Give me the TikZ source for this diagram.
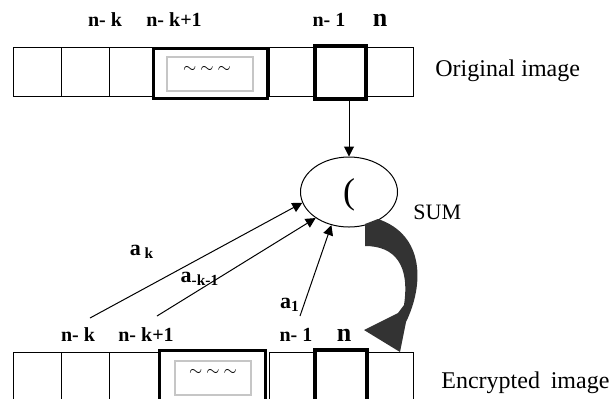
\documentclass[tikz,border=0pt]{standalone}
\usepackage{fontspec}
\setmainfont{Liberation Serif}
\usetikzlibrary{arrows.meta,shapes.geometric}

\tikzset{
  cell/.style={draw,line width=0.5pt,minimum height=24.5pt,inner sep=0pt},
  groupbox/.style={draw,line width=1.5pt,minimum height=25pt,inner sep=0pt},
  greybox/.style={draw=gray!45,line width=0.6pt,minimum height=17pt,inner sep=0pt,font=\footnotesize},
  thickcell/.style={draw,line width=2pt,minimum height=26.5pt,inner sep=0pt},
  idx/.style={font=\bfseries\fontsize{10}{12}\selectfont,inner sep=0pt},
  bign/.style={font=\bfseries\fontsize{13}{15}\selectfont,inner sep=0pt},
  coef/.style={font=\bfseries\fontsize{11}{13}\selectfont,inner sep=0pt},
  caption/.style={font=\fontsize{12}{14}\selectfont,anchor=west,inner sep=0pt},
  feed/.style={-{Triangle[length=5pt,width=5pt]},line width=0.5pt},
}

\begin{document}
\begin{tikzpicture}[x=0.5pt,y=-0.5pt]
  \useasboundingbox (0,0) rectangle (615,398);
  \clip (0,0) rectangle (615,398);

  % original image row
  \node[cell,minimum width=24pt] (o1) at (37,71.5) {};
  \node[cell,minimum width=24pt] (o2) at (85,71.5) {};
  \node[cell,minimum width=22pt] (o3) at (131,71.5) {};
  \node[groupbox,minimum width=57pt] (ogrp) at (210,73) {};
  \node[greybox,minimum width=43pt] (otil) at (210,74) {};
  \node (otxt) at (207,69) {\footnotesize$\sim\ \sim\ \sim$};
  \node[cell,minimum width=23pt] (o5) at (292,71.5) {};
  \node[cell,minimum width=23.5pt] (o7) at (389.5,71.5) {};
  \node[thickcell,minimum width=25.5pt] (on) at (340.5,72.5) {};

  \node[idx] (tk) at (105,20) {n- k};
  \node[idx] (tk1) at (174,20) {n- k+1};
  \node[idx] (t1) at (329,20) {n- 1};
  \node[bign] (tn) at (380,20) {n};
  \node[caption] (orig) at (435,71) {Original image};

  % sum
  \node[ellipse,draw,line width=0.5pt,minimum width=48.5pt,minimum height=35pt,inner sep=0pt]
    (sum) at (349,192) {};
  \node (sumsym) at (349,195) {\fontsize{18}{20}\selectfont (};
  \node[caption,font=\fontsize{11}{13}\selectfont] (sumlbl) at (413,212) {SUM};
  \draw[feed] (sum.north |- on.south) -- (sum.north);

  % encrypted image row
  \node[cell,minimum width=24pt] (e1) at (37,376.5) {};
  \node[cell,minimum width=24pt] (e2) at (85,376.5) {};
  \node[cell,minimum width=25pt] (e3) at (134,376.5) {};
  \node[groupbox,minimum width=53pt,minimum height=26pt] (egrp) at (212,376) {};
  \node[greybox,minimum width=38pt] (etil) at (213,378) {};
  \node (etxt) at (213,372) {\footnotesize$\sim\ \sim\ \sim$};
  \node[cell,minimum width=23pt] (e5) at (292,376.5) {};
  \node[cell,minimum width=23pt] (e7) at (390,376.5) {};
  \node[thickcell,minimum width=26pt] (en) at (341,376) {};

  \node[idx] (bk) at (78,335) {n- k};
  \node[idx] (bk1) at (146,335) {n- k+1};
  \node[idx] (b1) at (296,335) {n- 1};
  \node[bign] (bn) at (344,335) {n};
  \node[caption] (enc) at (441,383) {Encrypted\hspace{0.45em}image};

  % weighted feedback
  \coordinate (fk) at (90,318);
  \coordinate (fk1) at (157,316);
  \coordinate (f1) at (300,316);
  \draw[feed] (fk) -- (sum.193);
  \draw[feed] (fk1) -- (sum.218);
  \draw[feed] (f1) -- (sum.242);
  \node[coef] (ak) at (142,252) {a\,\textsubscript{k}};
  \node[coef] (ak1) at (200,279) {a\textsubscript{-k-1}};
  \node[coef] (a1) at (290,305) {a\textsubscript{1}};

  % result goes to position n
  \fill[black!80] (365,224) -- (365,246)
    .. controls (395,246) and (410,265) .. (404,305)
    -- (398,313) -- (364,330) -- (400,352) -- (406,322)
    .. controls (424,285) and (425,235) .. (378,219) -- cycle;
\end{tikzpicture}
\end{document}
